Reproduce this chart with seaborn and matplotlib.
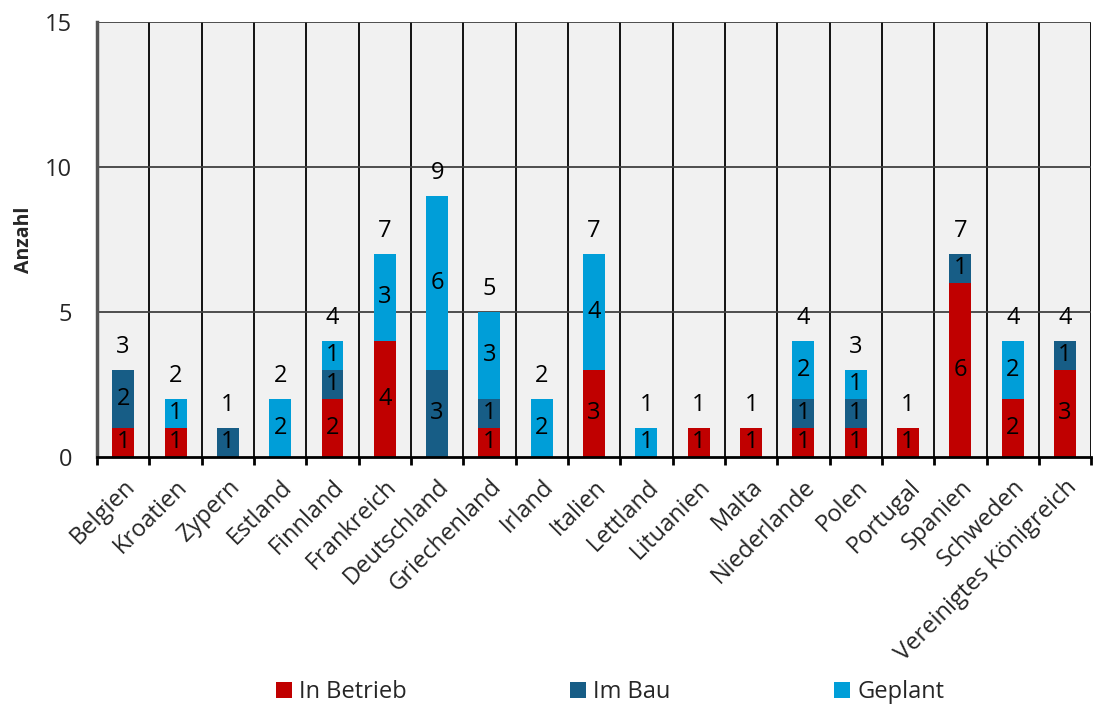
import numpy as np
import pandas as pd
import matplotlib
matplotlib.use("Agg")
import matplotlib.pyplot as plt
from matplotlib.patches import Patch
import seaborn as sns

laender = ["Belgien", "Kroatien", "Zypern", "Estland", "Finnland", "Frankreich",
           "Deutschland", "Griechenland", "Irland", "Italien", "Lettland", "Lituanien",
           "Malta", "Niederlande", "Polen", "Portugal", "Spanien", "Schweden",
           "Vereinigtes Königreich"]
in_betrieb = [1, 1, 0, 0, 2, 4, 0, 1, 0, 3, 0, 1, 1, 1, 1, 1, 6, 2, 3]
im_bau     = [2, 0, 1, 0, 1, 0, 3, 1, 0, 0, 0, 0, 0, 1, 1, 0, 1, 0, 1]
geplant    = [0, 1, 0, 2, 1, 3, 6, 3, 2, 4, 1, 0, 0, 2, 1, 0, 0, 2, 0]

series = ["In Betrieb", "Im Bau", "Geplant"]
farben = ["#C00000", "#175D86", "#009ED8"]

df = pd.DataFrame({"Land": laender, "In Betrieb": in_betrieb,
                   "Im Bau": im_bau, "Geplant": geplant})
df["s1"] = df["In Betrieb"]
df["s2"] = df["s1"] + df["Im Bau"]
df["s3"] = df["s2"] + df["Geplant"]

sns.set_theme(style="white")
plt.rcParams["font.family"] = ["Open Sans", "DejaVu Sans"]

fig = plt.figure(figsize=(10.95, 7.05), dpi=100)
ax = fig.add_axes([0.0886, 0.352, 0.908, 0.617])
ax.set_facecolor("#F1F1F1")

# stacked bars: draw cumulative totals from top down
for col, c in zip(["s3", "s2", "s1"], farben[::-1]):
    sns.barplot(data=df, x="Land", y=col, color=c, width=0.42, ax=ax,
                saturation=1, linewidth=0, zorder=3)

# segment labels
x = np.arange(len(laender))
for i in x:
    unten = 0
    for s in series:
        v = df[s][i]
        if v > 0:
            ax.text(i, unten + v / 2, str(v), ha="center", va="center",
                    fontsize=17, color="black", zorder=4)
        unten += v
    ax.text(i, df["s3"][i] + 0.78, str(df["s3"][i]), ha="center", va="center",
            fontsize=17, color="black", zorder=4)

ax.set_xlim(-0.5, len(laender) - 0.5)
ax.set_ylim(0, 15)
ax.set_yticks([0, 5, 10, 15])
ax.tick_params(axis="y", labelsize=17, length=0, pad=18)
ax.set_xticks(x)
ax.set_xticklabels(laender, rotation=45, ha="right", rotation_mode="anchor",
                   fontsize=17)
ax.tick_params(axis="x", which="major", length=0, pad=13)
ax.set_xticks(np.arange(-0.5, len(laender)), minor=True)
ax.tick_params(axis="x", which="minor", length=6, width=2, color="black",
               direction="out", bottom=True)

for b in np.arange(0.5, len(laender) - 0.5):
    ax.axvline(b, color="black", lw=1.3, zorder=1)
ax.axvline(len(laender) - 0.5, color="black", lw=1.3, zorder=1)
for h in [5, 10, 15]:
    ax.axhline(h, color="#404040", lw=1.3, zorder=1)

ax.set_xlabel("")
ax.set_ylabel("Anzahl", fontsize=14, fontweight="bold", labelpad=8)
for s in ["top", "right"]:
    ax.spines[s].set_visible(False)
ax.spines["left"].set_color("#555555")
ax.spines["left"].set_linewidth(2.5)
ax.spines["bottom"].set_color("black")
ax.spines["bottom"].set_linewidth(2)
ax.spines["bottom"].set_zorder(5)

handles = [Patch(facecolor=c, edgecolor="none") for c in farben]
fig.legend(handles, series, loc="center", bbox_to_anchor=(0.557, 0.018),
           ncol=3, frameon=False, fontsize=17, handlelength=0.7,
           handleheight=0.7, handletextpad=0.3, columnspacing=6.9)

fig.savefig("out.png", dpi=100)
